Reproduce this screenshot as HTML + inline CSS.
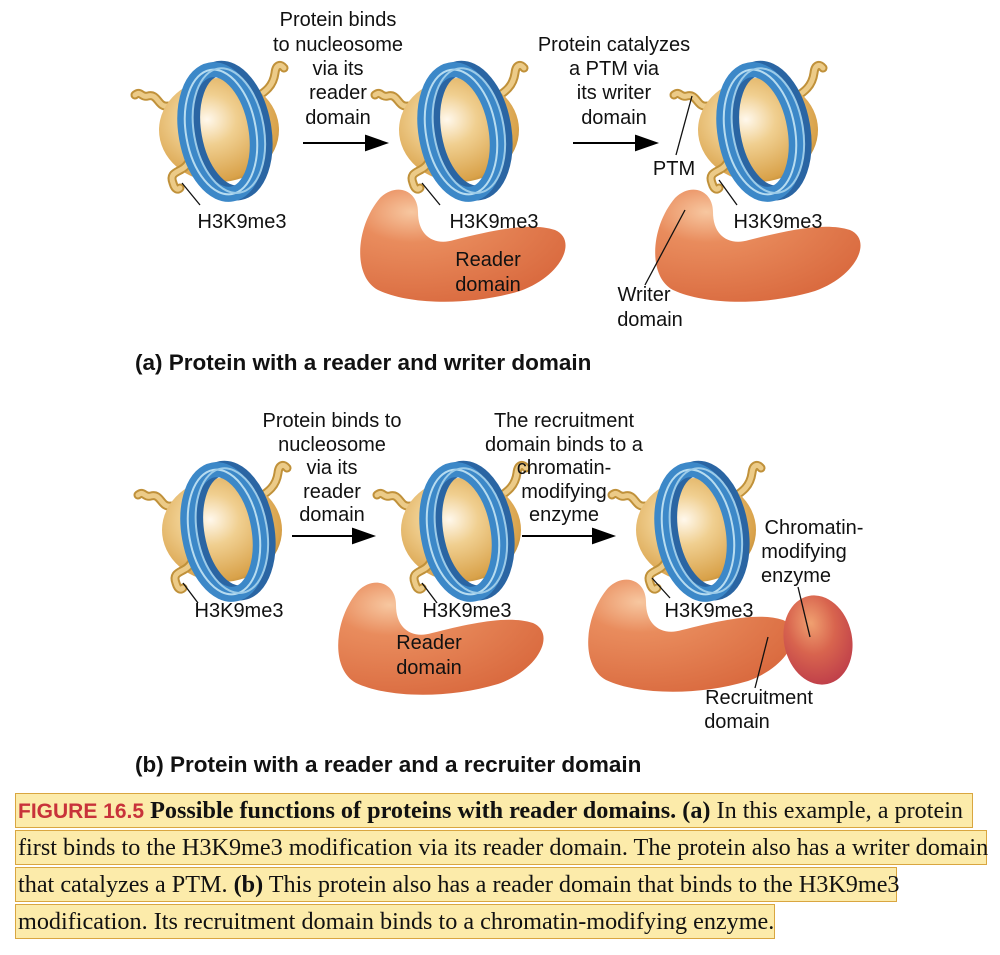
<!DOCTYPE html>
<html><head><meta charset="utf-8"><style>
body{margin:0;background:#fff;width:1000px;height:955px;overflow:hidden;position:relative;font-family:"Liberation Sans",sans-serif}
svg{position:absolute;left:0;top:0}
.cap{position:absolute;left:15px;font-family:"Liberation Serif",serif;font-size:24.2px;color:#111;background:#fcebaa;border:1px solid #d9a640;height:35px;line-height:34px;padding-left:2px;box-sizing:border-box;white-space:nowrap}
</style></head><body>
<svg width="1000" height="955" viewBox="0 0 1000 955">
<defs>
<radialGradient id="sph" cx="0.4" cy="0.4" r="0.7">
<stop offset="0" stop-color="#fff8ec"/><stop offset="0.35" stop-color="#f0cf90"/><stop offset="0.85" stop-color="#d9a24a"/><stop offset="1" stop-color="#b5822e"/></radialGradient>
<radialGradient id="dom" cx="0.25" cy="0.2" r="0.9">
<stop offset="0" stop-color="#f7c7a0"/><stop offset="0.3" stop-color="#e98c5d"/><stop offset="1" stop-color="#d9693e"/></radialGradient>
<radialGradient id="enz" cx="0.45" cy="0.3" r="0.7">
<stop offset="0" stop-color="#f0a070"/><stop offset="0.5" stop-color="#d8644e"/><stop offset="1" stop-color="#c0404a"/></radialGradient>
<g id="tails">
<path d="M-45,-22 C-55,-20 -55,-35 -65,-32 C-72,-30 -72,-38 -78,-33" fill="none" stroke="#c0913a" stroke-width="9" stroke-linecap="round"/>
<path d="M-45,-22 C-55,-20 -55,-35 -65,-32 C-72,-30 -72,-38 -78,-33" fill="none" stroke="#eccb88" stroke-width="5" stroke-linecap="round"/>
<path d="M40,-28 C50,-35 60,-40 62,-55 C63,-64 68,-64 71,-60" fill="none" stroke="#c0913a" stroke-width="9" stroke-linecap="round"/>
<path d="M40,-28 C50,-35 60,-40 62,-55 C63,-64 68,-64 71,-60" fill="none" stroke="#eccb88" stroke-width="5" stroke-linecap="round"/>
</g>
<g id="nuc">
<use href="#tails"/>
<ellipse cx="6" cy="2" rx="60" ry="52" fill="url(#sph)"/>
<path d="M-25,35 C-30,45 -45,42 -40,55 C-38,62 -35,62 -33,60" fill="none" stroke="#c0913a" stroke-width="9" stroke-linecap="round"/>
<path d="M-25,35 C-30,45 -45,42 -40,55 C-38,62 -35,62 -33,60" fill="none" stroke="#eccb88" stroke-width="5" stroke-linecap="round"/>
<g transform="translate(8,4) rotate(-10)">
<ellipse cx="8" cy="0" rx="35" ry="63" fill="none" stroke="#2a65a3" stroke-width="15"/>
<ellipse cx="0" cy="0" rx="35" ry="63" fill="none" stroke="#3c88c8" stroke-width="15"/>
<ellipse cx="0" cy="0" rx="35" ry="63" fill="none" stroke="#b7dcf0" stroke-width="2"/>
<ellipse cx="8" cy="0" rx="35" ry="63" fill="none" stroke="#9ccbe8" stroke-width="2"/>
</g>
</g>
<path id="dshape" d="M380,198 C396,182 418,190 418,212 C418,236 434,246 454,240 C494,230 530,222 555,230 C578,240 562,276 520,291 C470,306 410,305 378,290 C352,276 356,226 380,198 Z"/>
</defs>

<use href="#nuc" x="213" y="128"/>
<use href="#dshape" fill="url(#dom)"/>
<use href="#nuc" x="453" y="128"/>
<use href="#dshape" fill="url(#dom)" x="295"/>
<use href="#nuc" x="752" y="128"/>
<use href="#nuc" x="216" y="528"/>
<use href="#dshape" fill="url(#dom)" x="-22" y="393"/>
<use href="#nuc" x="455" y="528"/>
<use href="#dshape" fill="url(#dom)" x="228" y="390"/>
<ellipse cx="818" cy="640" rx="34" ry="45" fill="url(#enz)" transform="rotate(-12 818 640)"/>
<use href="#nuc" x="690" y="528"/>

<g stroke="#000" stroke-width="2">
<line x1="303" y1="143" x2="370" y2="143"/><path d="M366,136 L386,143 L366,150 Z" fill="#000"/>
<line x1="573" y1="143" x2="640" y2="143"/><path d="M636,136 L656,143 L636,150 Z" fill="#000"/>
<line x1="292" y1="536" x2="357" y2="536"/><path d="M353,529 L373,536 L353,543 Z" fill="#000"/>
<line x1="522" y1="536" x2="597" y2="536"/><path d="M593,529 L613,536 L593,543 Z" fill="#000"/>
</g>
<g stroke="#111" stroke-width="1.3" fill="none">
<line x1="182" y1="183" x2="200" y2="205"/>
<line x1="422" y1="183" x2="440" y2="205"/>
<line x1="719" y1="180" x2="737" y2="205"/>
<line x1="692" y1="96" x2="676" y2="155"/>
<line x1="685" y1="210" x2="645" y2="285"/>
<line x1="183" y1="583" x2="198" y2="603"/>
<line x1="422" y1="583" x2="437" y2="603"/>
<line x1="652" y1="578" x2="670" y2="598"/>
<line x1="798" y1="587" x2="810" y2="637"/>
<line x1="768" y1="637" x2="755" y2="688"/>
</g>

<g font-family="Liberation Sans, sans-serif" font-size="20" fill="#111" text-anchor="middle">
<text x="338" y="26">Protein binds</text><text x="338" y="51">to nucleosome</text><text x="338" y="75">via its</text><text x="338" y="99">reader</text><text x="338" y="124">domain</text>
<text x="614" y="51">Protein catalyzes</text><text x="614" y="75">a PTM via</text><text x="614" y="99">its writer</text><text x="614" y="124">domain</text>
<text x="674" y="175">PTM</text>
<text x="242" y="228">H3K9me3</text><text x="494" y="228">H3K9me3</text><text x="778" y="228">H3K9me3</text>
<text x="488" y="266">Reader</text><text x="488" y="291">domain</text>
<text x="644" y="301">Writer</text><text x="650" y="326">domain</text>
<text x="332" y="427">Protein binds to</text><text x="332" y="451">nucleosome</text><text x="332" y="474">via its</text><text x="332" y="498">reader</text><text x="332" y="521">domain</text>
<text x="564" y="427">The recruitment</text><text x="564" y="451">domain binds to a</text><text x="564" y="474">chromatin-</text><text x="564" y="498">modifying</text><text x="564" y="521">enzyme</text>
<text x="814" y="534">Chromatin-</text><text x="804" y="558">modifying</text><text x="796" y="582">enzyme</text>
<text x="239" y="617">H3K9me3</text><text x="467" y="617">H3K9me3</text><text x="709" y="617">H3K9me3</text>
<text x="429" y="649">Reader</text><text x="429" y="674">domain</text>
<text x="759" y="704">Recruitment</text><text x="737" y="728">domain</text>
</g>
<g font-family="Liberation Sans, sans-serif" font-size="22.5" font-weight="bold" fill="#111">
<text x="135" y="370">(a) Protein with a reader and writer domain</text>
<text x="135" y="772">(b) Protein with a reader and a recruiter domain</text>
</g>
</svg>
<div class="cap" style="top:793px;width:958px"><span style="font-family:'Liberation Sans',sans-serif;color:#c8323a;font-weight:bold;font-size:21px">FIGURE 16.5</span> <b>Possible functions of proteins with reader domains. (a)</b> In this example, a protein</div>
<div class="cap" style="top:830px;width:972px">first binds to the H3K9me3 modification via its reader domain. The protein also has a writer domain</div>
<div class="cap" style="top:867px;width:882px">that catalyzes a PTM. <b>(b)</b> This protein also has a reader domain that binds to the H3K9me3</div>
<div class="cap" style="top:904px;width:760px">modification. Its recruitment domain binds to a chromatin-modifying enzyme.</div>
</body></html>
